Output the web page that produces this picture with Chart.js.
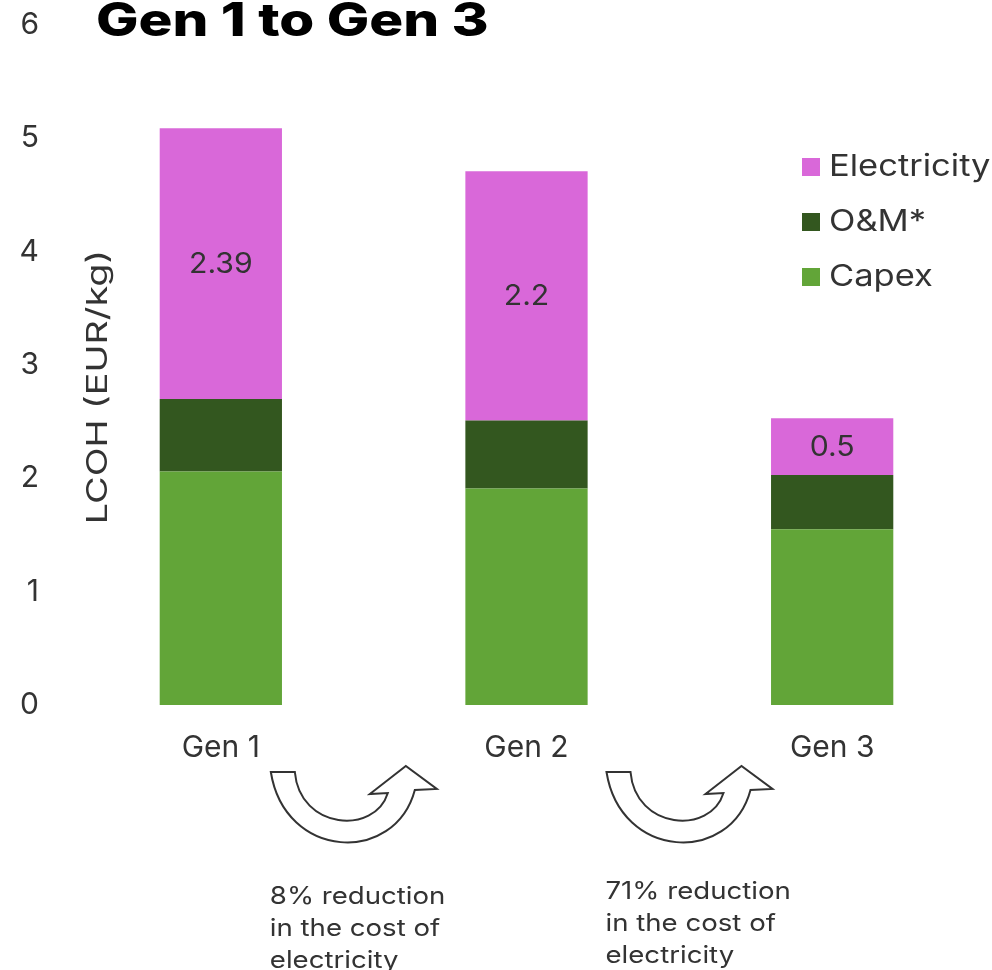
<!DOCTYPE html>
<html>
<head>
<meta charset="utf-8">
<script src="https://cdn.jsdelivr.net/npm/chart.js@4"></script>
<style>
  html, body { margin: 0; padding: 0; background: #fff; }
  #wrap { width: 992px; height: 970px; position: relative; }
</style>
</head>
<body>
<div id="wrap"><canvas id="myChart"></canvas></div>
<script>
// data
const categories = ['Gen 1', 'Gen 2', 'Gen 3'];
const capex = [2.06, 1.91, 1.55];
const om = [0.64, 0.60, 0.48];
const electricity = [2.39, 2.2, 0.5];
const seriesNames = ['Capex', 'O&M*', 'Electricity'];
const seriesColors = ['#62a538', '#33571f', '#d968d9'];
const yMax = 6;
const notes = [
    ['8% reduction', 'in the cost of', 'electricity'],
    ['71% reduction', 'in the cost of', 'electricity']
];
const chartTitle = 'Gen 1 to Gen 3';
const yTitle = 'LCOH (EUR/kg)';

const FONT = "Inter, sans-serif";
const TEXT = '#333333';

// text drawn a bit wider (the original font is a wide one)
function wideText(ctx, text, x, y, font, stretch) {
    ctx.save();
    ctx.font = font;
    ctx.translate(x, y);
    ctx.scale(stretch, 1);
    ctx.fillText(text, 0, 0);
    ctx.restore();
}

// curved arrow between two columns, x0 = left edge of arrow
function drawArrow(ctx, x0, y0) {
    const p = (x, y) => [x0 + x, y0 + y];
    ctx.save();
    ctx.beginPath();
    ctx.moveTo(...p(0, 0));
    ctx.lineTo(...p(24, 0));
    ctx.bezierCurveTo(...p(29, 58), ...p(104, 63), ...p(117, 21));
    ctx.lineTo(...p(99, 22));
    ctx.lineTo(...p(135, -6));
    ctx.lineTo(...p(166, 17));
    ctx.lineTo(...p(144, 18));
    ctx.bezierCurveTo(...p(124, 93), ...p(14, 88), ...p(0, 0));
    ctx.closePath();
    ctx.fillStyle = '#fff';
    ctx.fill();
    ctx.lineWidth = 2;
    ctx.strokeStyle = '#333';
    ctx.lineJoin = 'miter';
    ctx.stroke();
    ctx.restore();
}

// arrow / note offsets from the left column centre
const noteOffsets = [50, 80];
const noteTops = [897, 892];

const extras = {
    id: 'extras',
    afterDatasetsDraw(chart) {
        const ctx = chart.ctx;
        const xs = chart.scales.x;
        const area = chart.chartArea;

        ctx.save();
        ctx.textAlign = 'left';
        ctx.textBaseline = 'middle';

        // title
        ctx.fillStyle = '#000';
        wideText(ctx, chartTitle, 96, 22, "800 46px " + FONT, 1.23);

        // y axis title
        ctx.save();
        ctx.translate(98, 387);
        ctx.rotate(-Math.PI / 2);
        ctx.fillStyle = TEXT;
        ctx.textAlign = 'center';
        wideText(ctx, yTitle, 0, 0, "29px " + FONT, 1.3);
        ctx.restore();

        // value labels on electricity segments
        const meta = chart.getDatasetMeta(2);
        ctx.fillStyle = TEXT;
        ctx.textAlign = 'center';
        meta.data.forEach((bar, i) => {
            wideText(ctx, String(electricity[i]), bar.x, (bar.y + bar.base) / 2 + 1, "28px " + FONT, 1.08);
        });

        // legend (top series first)
        ctx.textAlign = 'left';
        for (let i = 0; i < seriesNames.length; i++) {
            const k = seriesNames.length - 1 - i;
            const y = 167 + i * 55;
            ctx.fillStyle = seriesColors[k];
            ctx.fillRect(802, y - 9, 18, 18);
            ctx.fillStyle = TEXT;
            wideText(ctx, seriesNames[k], 829, y, "30px " + FONT, 1.15);
        }

        // arrows and notes between the columns
        for (let i = 0; i < notes.length; i++) {
            const cx = xs.getPixelForValue(i) + noteOffsets[i];
            drawArrow(ctx, cx, area.bottom + 67);
            ctx.fillStyle = TEXT;
            notes[i].forEach((line, j) => {
                wideText(ctx, line, cx - 1, noteTops[i] + j * 32, "24px " + FONT, 1.15);
            });
        }
        ctx.restore();
    }
};

const data = {
    labels: categories,
    datasets: [
        { label: seriesNames[0], data: capex, backgroundColor: seriesColors[0] },
        { label: seriesNames[1], data: om, backgroundColor: seriesColors[1] },
        { label: seriesNames[2], data: electricity, backgroundColor: seriesColors[2] }
    ]
};

const config = {
    type: 'bar',
    data: data,
    options: {
        responsive: false,
        animation: false,
        layout: { padding: { top: 25, right: 7, left: 0, bottom: 0 } },
        datasets: {
            bar: { categoryPercentage: 1, barPercentage: 0.4, borderWidth: 0 }
        },
        scales: {
            x: {
                stacked: true,
                grid: { display: false, drawTicks: false },
                border: { display: false },
                ticks: { color: TEXT, font: { family: FONT, size: 30 }, padding: 25 },
                afterFit: (scale) => { scale.height = 265; }
            },
            y: {
                stacked: true,
                min: 0,
                max: yMax,
                grid: { display: false, drawTicks: false },
                border: { display: false },
                ticks: { stepSize: 1, color: TEXT, font: { family: FONT, size: 30 }, padding: 29 },
                afterFit: (scale) => {
                    scale.width = 68;
                    scale.paddingTop = 0;
                    scale.paddingBottom = 0;
                }
            }
        },
        plugins: {
            legend: { display: false },
            tooltip: { enabled: false }
        }
    },
    plugins: [extras]
};

const cv = document.getElementById('myChart');
cv.width = 992;
cv.height = 970;
new Chart(cv, config);
</script>
</body>
</html>
